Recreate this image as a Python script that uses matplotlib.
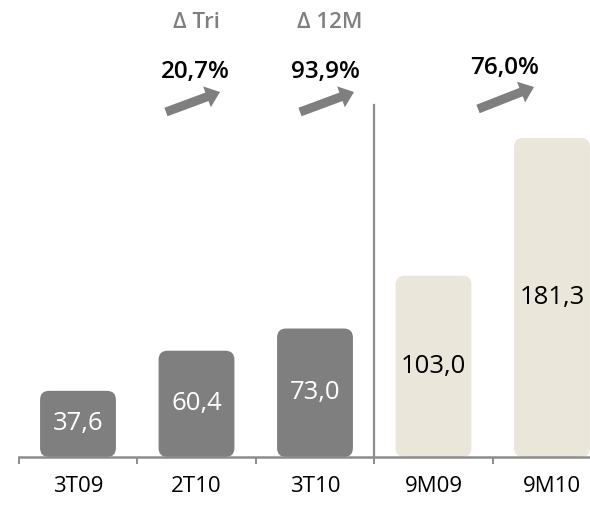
import matplotlib
matplotlib.use("Agg")
import matplotlib.pyplot as plt
from matplotlib.patches import FancyBboxPatch

# data
categories = ["3T09", "2T10", "3T10", "9M09", "9M10"]
values = [37.6, 60.4, 73.0, 103.0, 181.3]
value_labels = ["37,6", "60,4", "73,0", "103,0", "181,3"]
changes = ["20,7%", "93,9%", "76,0%"]
change_titles = ["\u0394 Tri", "\u0394 12M"]

dark = "#7f7f7f"
light = "#eae6da"
bar_colors = [dark, dark, dark, light, light]
text_colors = ["white", "white", "white", "black", "black"]

plt.rcParams['font.family'] = ['Open Sans', 'DejaVu Sans']

W, H = 590, 505
fig = plt.figure(figsize=(W / 100, H / 100), dpi=100)

# axis area: baseline at 48px from bottom, 1.76 px per unit, 118.5 px per category
base_px = 48
px_per_unit = 1.76
step_px = 118.5
first_px = 78
ax = fig.add_axes([0, base_px / H, 1, 1 - base_px / H])
ax.set_xlim(-first_px / step_px, (W - first_px) / step_px)
ax.set_ylim(0, (H - base_px) / px_per_unit)

bar_w = 0.64
radius = 9 / step_px
aspect = step_px / px_per_unit
for i, (v, c, lab, tc) in enumerate(zip(values, bar_colors, value_labels, text_colors)):
    patch = FancyBboxPatch((i - bar_w / 2, 0), bar_w, v,
                           boxstyle=f"round,pad=0,rounding_size={radius}",
                           mutation_aspect=aspect, fc=c, ec="none", zorder=2)
    ax.add_patch(patch)
    ax.text(i, v / 2, lab, ha="center", va="center", color=tc,
            fontsize=18.5, zorder=3)

# separator between quarter and 9-month bars
ax.plot([2.5, 2.5], [0, 200], color="#8c8c8c", lw=1.6, zorder=1, clip_on=False)

for s in ["top", "right", "left"]:
    ax.spines[s].set_visible(False)
ax.spines["bottom"].set_color("#8c8c8c")
ax.spines["bottom"].set_linewidth(1.8)
ax.spines["bottom"].set_bounds(-0.5, ax.get_xlim()[1])
ax.spines["bottom"].set_zorder(4)
ax.set_yticks([])
ax.set_xticks(range(len(categories)))
ax.set_xticklabels(categories, fontsize=16)
ax.tick_params(axis="x", which="major", length=0, pad=14)
ax.set_xticks([-0.5, 0.5, 1.5, 2.5, 3.5], minor=True)
ax.tick_params(axis="x", which="minor", length=5, width=1.4, color="#8c8c8c")
ax.patch.set_alpha(0)

# header texts (figure pixels)
for x, t in zip([196, 330], change_titles):
    fig.text(x / W, 1 - 22 / H, t, ha="center", va="center", color="#808080",
             fontsize=16, fontweight="semibold")
for (x, y), t in zip([(195, 72), (325, 72), (505, 68)], changes):
    fig.text(x / W, 1 - y / H, t, ha="center", va="center", color="black",
             fontsize=17.5, fontweight="semibold")

arrows = [((166, 112), (220, 92)), ((300, 112), (354, 92)), ((478, 109), (534, 87))]
for (x0, y0), (x1, y1) in arrows:
    ax.annotate("", xy=(x1, H - y1), xytext=(x0, H - y0),
                xycoords="figure pixels", textcoords="figure pixels",
                arrowprops=dict(arrowstyle="simple,head_length=10,head_width=16,tail_width=6.5",
                                mutation_scale=1, fc=dark, ec="none",
                                shrinkA=0, shrinkB=0))

fig.savefig("out.png", dpi=100)
